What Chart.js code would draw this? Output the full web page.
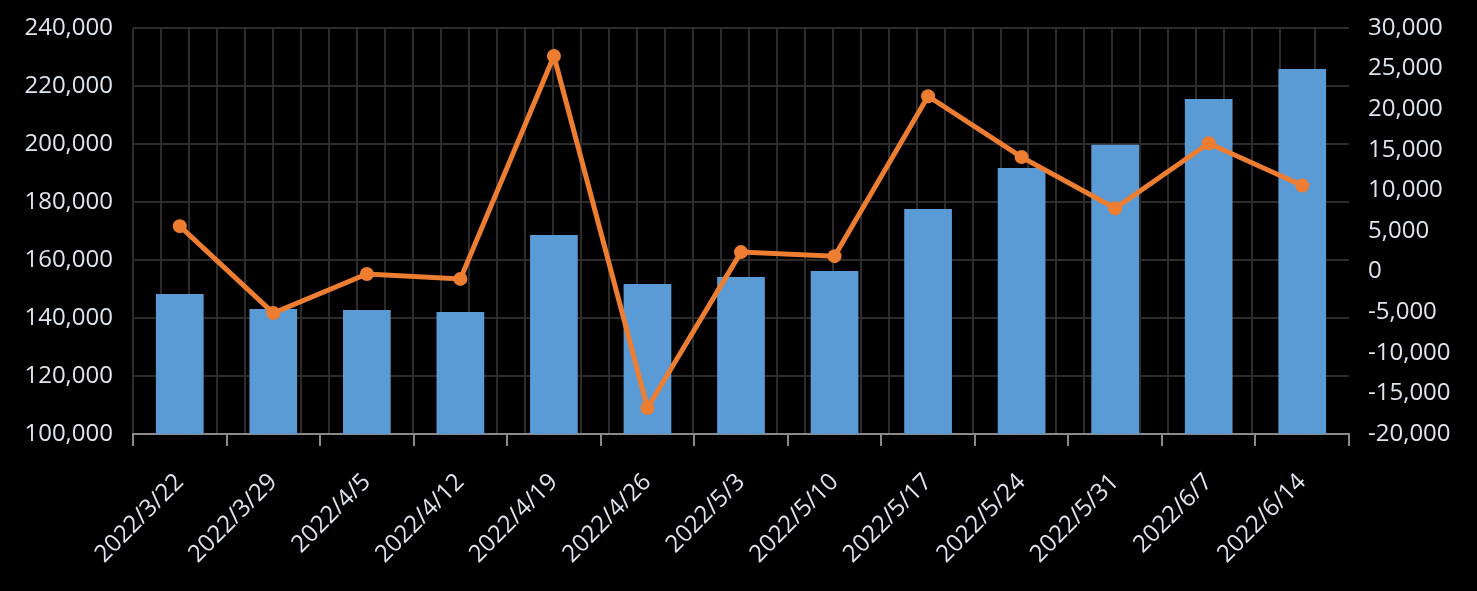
<!DOCTYPE html>
<html>
<head>
<meta charset="utf-8">
<script src="https://cdn.jsdelivr.net/npm/chart.js@4/dist/chart.umd.min.js"></script>
<style>
  body { margin: 0; background: #000; }
  #wrap { width: 1477px; height: 591px; background: #000; }
</style>
</head>
<body>
<div id="wrap"><canvas id="weekChart"></canvas></div>
<script>
const weeks = ['2022/3/22', '2022/3/29', '2022/4/5', '2022/4/12', '2022/4/19', '2022/4/26', '2022/5/3',
  '2022/5/10', '2022/5/17', '2022/5/24', '2022/5/31', '2022/6/7', '2022/6/14'];
const totals = [148300, 143100, 142800, 142100, 168600, 151700, 154100, 156200, 177600, 191700, 199700, 215500, 225900];
const changes = [5600, -5100, -300, -900, 26550, -16800, 2400, 1900, 21600, 14100, 7800, 15800, 10600];

const labelColor = '#dfe5ec';
const gridColor = '#2c2c2c';
const fmt = v => Number(v).toLocaleString('en-US');

const weekChartCanvas = document.getElementById('weekChart').getContext('2d');
const weekChart = new Chart(weekChartCanvas, {
  type: 'bar',
  data: {
    labels: weeks,
    datasets: [{
      type: 'line',
      label: 'Change',
      data: changes,
      yAxisID: 'yRight',
      borderColor: '#ED7D31',
      backgroundColor: '#ED7D31',
      borderWidth: 5,
      pointRadius: 7,
      pointBorderWidth: 0,
      pointBackgroundColor: '#ED7D31',
      tension: 0,
      order: 0
    }, {
      type: 'bar',
      label: 'Total',
      data: totals,
      yAxisID: 'yLeft',
      backgroundColor: '#5B9BD5',
      barPercentage: 0.51,
      categoryPercentage: 1,
      order: 1
    }]
  },
  options: {
    responsive: true,
    maintainAspectRatio: false,
    animation: false,
    layout: { padding: { top: 28, left: 0, right: 0, bottom: 0 } },
    plugins: {
      legend: { display: false },
      tooltip: { enabled: false }
    },
    scales: {
      x: {
        offset: true,
        grid: {
          display: true,
          drawOnChartArea: false,
          color: '#8a8a8a',
          lineWidth: 2,
          tickLength: 12
        },
        border: { display: true, color: '#8a8a8a', width: 2 },
        ticks: {
          color: labelColor,
          font: { family: 'Open Sans', size: 24 },
          minRotation: 45,
          maxRotation: 45,
          padding: 22,
          autoSkip: false
        },
        afterFit(scale) { scale.height = 157; }
      },
      xGrid: {
        type: 'linear',
        position: 'top',
        min: 0,
        max: 42.45,
        grid: {
          color: gridColor,
          lineWidth: 2,
          drawTicks: false
        },
        border: { display: false },
        ticks: { display: false, stepSize: 1 },
        afterFit(scale) { scale.height = 0; }
      },
      yLeft: {
        position: 'left',
        min: 100000,
        max: 240000,
        grid: { color: gridColor, lineWidth: 2, drawTicks: false },
        border: { display: false },
        ticks: {
          stepSize: 20000,
          color: labelColor,
          font: { family: 'Open Sans', size: 24 },
          padding: 20,
          callback: fmt
        },
        afterFit(scale) {
          scale.width = 133;
          scale.paddingTop = 0;
          scale.paddingBottom = 0;
        }
      },
      yRight: {
        position: 'right',
        min: -20000,
        max: 30000,
        grid: { drawOnChartArea: false, drawTicks: false },
        border: { display: false },
        ticks: {
          stepSize: 5000,
          color: labelColor,
          font: { family: 'Open Sans', size: 24 },
          padding: 19,
          callback: fmt
        },
        afterFit(scale) {
          scale.width = 128;
          scale.paddingTop = 0;
          scale.paddingBottom = 0;
        }
      }
    }
  }
});
</script>
</body>
</html>
